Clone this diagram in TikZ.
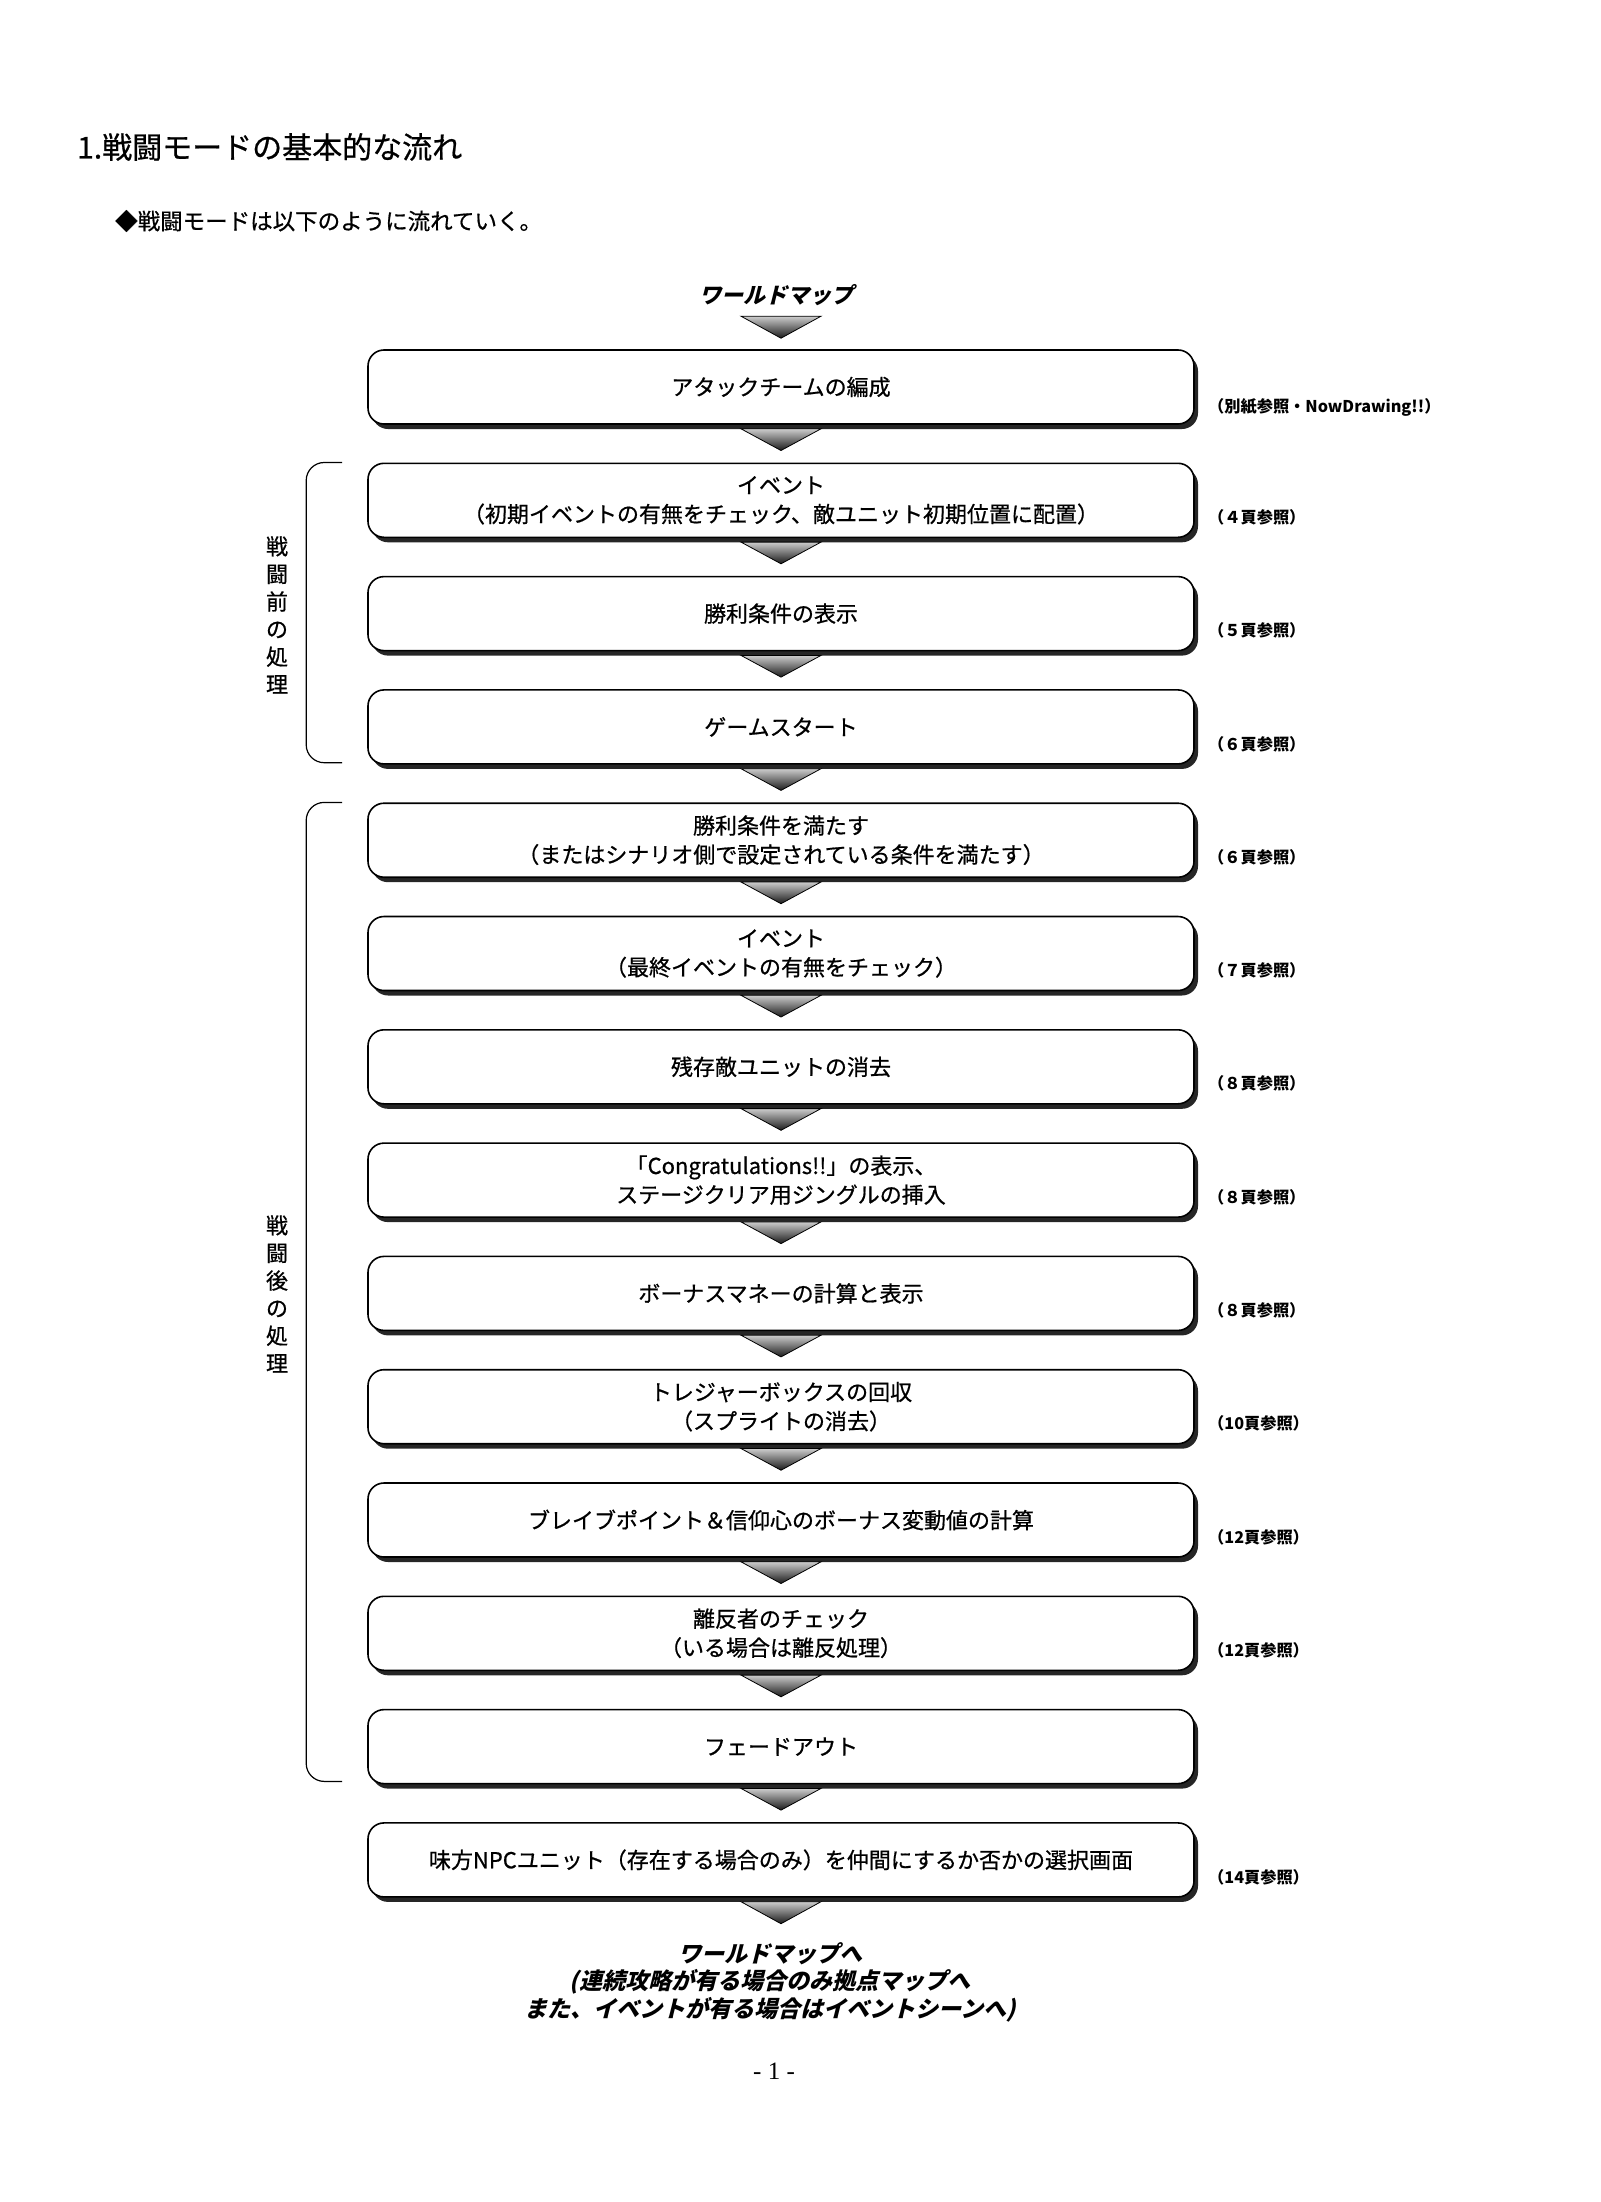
\documentclass[tikz,border=0pt]{standalone}
\usepackage{fontspec}
\setmainfont{Liberation Serif}
\newfontfamily\jp{Noto Sans CJK JP}[FakeBold=0.7]
\newfontfamily\jpplain{Noto Sans CJK JP}
\newfontfamily\jpit{Noto Sans CJK JP}[FakeSlant=0.25]
\usetikzlibrary{calc,shadows}
\tikzset{
  flowbox/.style={draw=black, line width=1.6pt, rounded corners=16pt, fill=white,
    minimum width=826pt, minimum height=74pt, inner sep=0pt, align=center,
    font=\jp\fontsize{22}{29}\selectfont,
    drop shadow={shadow xshift=4pt, shadow yshift=-5pt, fill=black!85, opacity=1}},
  reflabel/.style={anchor=west, inner sep=0pt, font=\jpplain\bfseries\fontsize{16.2}{18}\selectfont},
  sidelabel/.style={align=center, inner sep=0pt, font=\jp\fontsize{22}{27.6}\selectfont},
  bracketline/.style={line width=1.2pt, rounded corners=18pt},
  tri/.style={draw=black, line width=0.8pt, top color=black!20, bottom color=black!90},
}
\newcommand\flowtri[2]{\path[tri] ($(#1.south)+(-40,4)$) -- ($(#1.south)+(40,4)$) -- ($(#2.north)+(0,-12)$) -- cycle;}
\begin{document}
\begin{tikzpicture}[x=1pt,y=-1pt]
\useasboundingbox (0,0) rectangle (1600,2202);
\fill[white] (0,0) rectangle (1600,2202);

% title
\node[anchor=west, inner sep=0pt, font=\jp\fontsize{30}{36}\selectfont] (title) at (77,147) {1.戦闘モードの基本的な流れ};
\node[anchor=west, inner sep=0pt, font=\jp\fontsize{22.5}{26}\selectfont] (sub) at (115,221) {◆戦闘モードは以下のように流れていく。};

\node[inner sep=0pt, font=\jpit\bfseries\fontsize{22}{26}\selectfont] (wm) at (776,295) {ワールドマップ};

% boxes
\node[flowbox] (b1) at (781,387.0) {アタックチームの編成};
\node[flowbox] (b2) at (781,500.3) {イベント\\（初期イベントの有無をチェック、敵ユニット初期位置に配置）};
\node[flowbox] (b3) at (781,613.6) {勝利条件の表示};
\node[flowbox] (b4) at (781,726.9) {ゲームスタート};
\node[flowbox] (b5) at (781,840.2) {勝利条件を満たす\\（またはシナリオ側で設定されている条件を満たす）};
\node[flowbox] (b6) at (781,953.5) {イベント\\（最終イベントの有無をチェック）};
\node[flowbox] (b7) at (781,1066.8) {残存敵ユニットの消去};
\node[flowbox] (b8) at (781,1180.1) {「Congratulations!!」の表示、\\ステージクリア用ジングルの挿入};
\node[flowbox] (b9) at (781,1293.4) {ボーナスマネーの計算と表示};
\node[flowbox] (b10) at (781,1406.7) {トレジャーボックスの回収\\（スプライトの消去）};
\node[flowbox] (b11) at (781,1520.0) {ブレイブポイント＆信仰心のボーナス変動値の計算};
\node[flowbox] (b12) at (781,1633.3) {離反者のチェック\\（いる場合は離反処理）};
\node[flowbox] (b13) at (781,1746.6) {フェードアウト};
\node[flowbox] (b14) at (781,1859.9) {味方NPCユニット（存在する場合のみ）を仲間にするか否かの選択画面};

% reference labels
\node[reflabel] (r1) at (1208,407) {（別紙参照・NowDrawing!!）};
\node[reflabel] (r2) at (1208,517.3) {（４頁参照）};
\node[reflabel] (r3) at (1208,630.6) {（５頁参照）};
\node[reflabel] (r4) at (1208,743.9) {（６頁参照）};
\node[reflabel] (r5) at (1208,857.2) {（６頁参照）};
\node[reflabel] (r6) at (1208,970.5) {（７頁参照）};
\node[reflabel] (r7) at (1208,1083.8) {（８頁参照）};
\node[reflabel] (r8) at (1208,1197.1) {（８頁参照）};
\node[reflabel] (r9) at (1208,1310.4) {（８頁参照）};
\node[reflabel] (r10) at (1208,1423.7) {（10頁参照）};
\node[reflabel] (r11) at (1208,1537.0) {（12頁参照）};
\node[reflabel] (r12) at (1208,1650.3) {（12頁参照）};
\node[reflabel] (r14) at (1208,1876.9) {（14頁参照）};

% bottom text
\node[inner sep=0pt, align=center, font=\jpit\bfseries\fontsize{23}{27.5}\selectfont] (end) at (770,1982)
  {ワールドマップへ\\(連続攻略が有る場合のみ拠点マップへ\\また、イベントが有る場合はイベントシーンへ)};
\node[inner sep=0pt, font=\fontsize{25}{28}\selectfont] (page) at (774,2071) {- 1 -};

% arrows
\path[tri] ($(b1.north)+(-40,-33)$) -- ($(b1.north)+(40,-33)$) -- ($(b1.north)+(0,-11)$) -- cycle;
\flowtri{b1}{b2}
\flowtri{b2}{b3}
\flowtri{b3}{b4}
\flowtri{b4}{b5}
\flowtri{b5}{b6}
\flowtri{b6}{b7}
\flowtri{b7}{b8}
\flowtri{b8}{b9}
\flowtri{b9}{b10}
\flowtri{b10}{b11}
\flowtri{b11}{b12}
\flowtri{b12}{b13}
\flowtri{b13}{b14}
\path[tri] ($(b14.south)+(-40,4)$) -- ($(b14.south)+(40,4)$) -- ($(b14.south)+(0,26)$) -- cycle;

% brackets
\draw[bracketline] ($(b2.north west)+(-25,0)$) -- ($(b2.north west)+(-61,0)$) -- ($(b4.south west)+(-61,-2)$) -- ($(b4.south west)+(-25,-2)$);
\draw[bracketline] ($(b5.north west)+(-25,0)$) -- ($(b5.north west)+(-61,0)$) -- ($(b13.south west)+(-61,-3)$) -- ($(b13.south west)+(-25,-3)$);

\node[sidelabel] (pre) at (277,615) {戦\\闘\\前\\の\\処\\理};
\node[sidelabel] (post) at (277,1294) {戦\\闘\\後\\の\\処\\理};
\end{tikzpicture}
\end{document}
